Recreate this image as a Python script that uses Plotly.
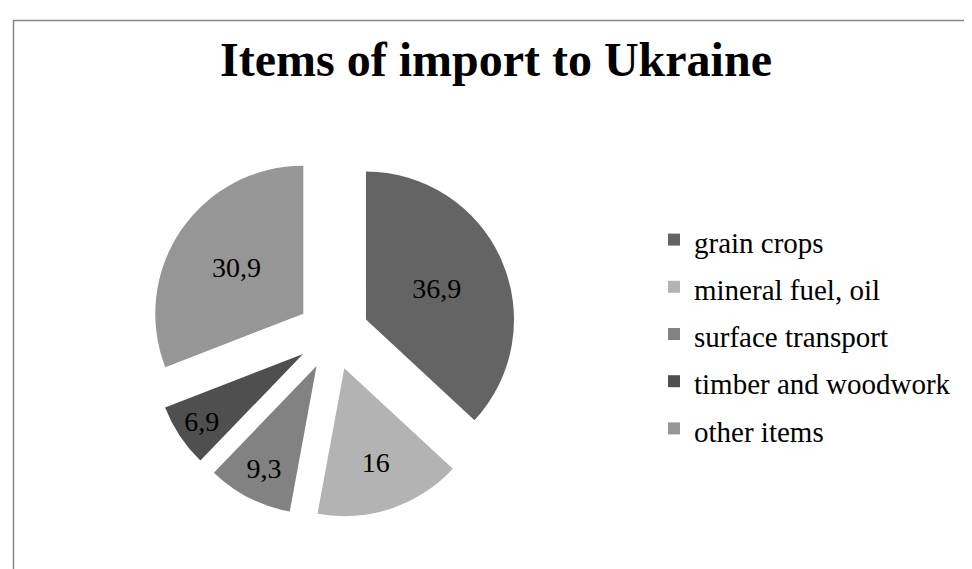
import plotly.graph_objects as go

title_text = "Items of import to Ukraine"
categories = ["grain crops", "mineral fuel, oil", "surface transport", "timber and woodwork", "other items"]
values = [36.9, 16, 9.3, 6.9, 30.9]
colors = ["#646464", "#b3b3b3", "#828282", "#4f4f4f", "#969696"]

labels_text = [f"{v:g}".replace(".", ",") for v in values]
legend_labels = ['<span style="font-size:29px">' + c + "</span>" for c in categories]

W, H = 972, 569
cx, cy, size = 325, 326, 368

fig = go.Figure(go.Pie(
    labels=legend_labels,
    values=values,
    text=labels_text,
    textinfo="text",
    textposition="inside",
    insidetextorientation="horizontal",
    sort=False,
    direction="clockwise",
    rotation=0,
    pull=0.243,
    marker=dict(colors=colors, line=dict(width=0)),
    textfont=dict(family="Liberation Serif", size=28, color="black"),
    hoverinfo="none",
    domain=dict(x=[(cx - size / 2) / W, (cx + size / 2) / W],
                y=[1 - (cy + size / 2) / H, 1 - (cy - size / 2) / H]),
))

fig.update_layout(
    width=W, height=H,
    margin=dict(l=0, r=0, t=0, b=0),
    paper_bgcolor="white",
    plot_bgcolor="white",
    title=dict(text="<b>" + title_text + "</b>", x=488 / W, xanchor="center",
               y=1 - 51 / H, yanchor="middle", yref="container",
               font=dict(family="Liberation Serif", size=48, color="black")),
    legend=dict(x=646 / W, xanchor="left", y=1 - 326 / H, yanchor="middle",
                font=dict(family="Liberation Serif", size=34, color="black"),
                bgcolor="rgba(0,0,0,0)"),
    shapes=[dict(type="rect", xref="paper", yref="paper",
                 x0=5.5 / W, x1=1.05, y0=-0.05, y1=1 - 12.5 / H,
                 line=dict(color="#878787", width=1.5), fillcolor="rgba(0,0,0,0)", layer="below")],
)

fig.write_html("out.html")
